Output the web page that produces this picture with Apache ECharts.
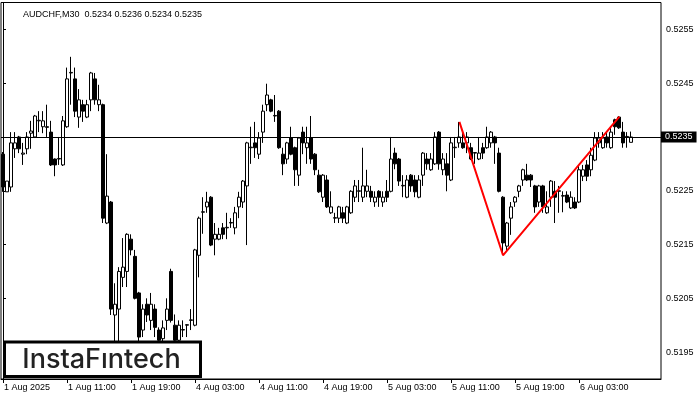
<!DOCTYPE html>
<html>
<head>
<meta charset="utf-8">
<script src="https://cdn.jsdelivr.net/npm/echarts@6/dist/echarts.min.js"></script>
<style>html,body{margin:0;padding:0;background:#fff}#c{width:700px;height:400px}</style>
</head>
<body>
<div id="c"></div>
<script>
const headerText = 'AUDCHF,M30  0.5234 0.5236 0.5234 0.5235';
const xTickLabels = ['1 Aug 2025','1 Aug 11:00','1 Aug 19:00','4 Aug 03:00','4 Aug 11:00','4 Aug 19:00','5 Aug 03:00','5 Aug 11:00','5 Aug 19:00','6 Aug 03:00'];
const barsPerTick = 16;
const slotCount = 165;
const yTickValues = [0.5195, 0.5205, 0.5215, 0.5225, 0.5235, 0.5245, 0.5255];
const currentPrice = 0.5235;

const opens = [
0.52318,0.52248,0.52257,0.52328,0.52350,0.52318,0.52328,0.52357,0.52350,0.52380,
0.52369,0.52369,0.52359,0.52309,0.52309,0.52298,0.52369,0.52469,0.52458,0.52387,
0.52410,0.52387,0.52419,0.52458,0.52410,0.52410,0.52190,0.52229,0.52019,0.52030,
0.52089,0.52100,0.52160,0.52128,0.52060,0.51991,0.52039,0.52009,0.52030,0.51991,
0.51975,0.52009,0.52100,0.52000,0.51972,0.51991,0.52000,0.52009,0.52000,0.52130,
0.52210,0.52220,0.52238,0.52160,0.52160,0.52181,0.52181,0.52190,0.52181,0.52220,
0.52229,0.52259,0.52330,0.52339,0.52318,0.52359,0.52410,0.52419,0.52389,0.52398,
0.52318,0.52309,0.52348,0.52330,0.52279,0.52359,0.52330,0.52348,0.52318,0.52279,
0.52238,0.52270,0.52209,0.52199,0.52199,0.52209,0.52190,0.52209,0.52238,0.52249,
0.52238,0.52249,0.52249,0.52229,0.52249,0.52229,0.52249,0.52249,0.52320,0.52309,
0.52259,0.52238,0.52279,0.52270,0.52238,0.52279,0.52309,0.52289,0.52300,0.52359,
0.52289,0.52300,0.52270,0.52330,0.52339,0.52339,0.52339,0.52330,0.52320,0.52309,
0.52330,0.52330,0.52339,0.52350,0.52320,0.52238,0.52147,0.52199,0.52229,0.52249,
0.52270,0.52279,0.52279,0.52259,0.52229,0.52259,0.52209,0.52238,0.52249,0.52249,
0.52240,0.52242,0.52218,0.52229,0.52229,0.52277,0.52298,0.52289,0.52307,0.52339,
0.52330,0.52350,0.52330,0.52382,0.52387,0.52359,0.52350,0.52340];
const closes = [
0.52257,0.52268,0.52339,0.52339,0.52328,0.52320,0.52350,0.52361,0.52389,0.52381,
0.52380,0.52368,0.52298,0.52298,0.52310,0.52380,0.52458,0.52470,0.52398,0.52419,
0.52398,0.52410,0.52469,0.52419,0.52419,0.52199,0.52240,0.52030,0.52039,0.52100,
0.52108,0.52169,0.52140,0.52050,0.51978,0.52030,0.52019,0.52039,0.51996,0.51972,
0.51995,0.52030,0.52009,0.51972,0.52000,0.51992,0.52001,0.52010,0.52140,0.52199,
0.52211,0.52229,0.52149,0.52169,0.52169,0.52169,0.52182,0.52191,0.52209,0.52238,
0.52268,0.52339,0.52331,0.52330,0.52348,0.52398,0.52428,0.52398,0.52390,0.52330,
0.52300,0.52339,0.52318,0.52289,0.52348,0.52339,0.52339,0.52309,0.52289,0.52248,
0.52279,0.52220,0.52220,0.52200,0.52220,0.52199,0.52220,0.52249,0.52259,0.52250,
0.52259,0.52259,0.52238,0.52238,0.52238,0.52238,0.52238,0.52309,0.52300,0.52268,
0.52260,0.52270,0.52259,0.52248,0.52270,0.52320,0.52300,0.52309,0.52350,0.52300,
0.52309,0.52279,0.52339,0.52331,0.52350,0.52330,0.52350,0.52309,0.52321,0.52320,
0.52320,0.52350,0.52359,0.52339,0.52249,0.52153,0.52190,0.52220,0.52238,0.52259,
0.52289,0.52270,0.52270,0.52220,0.52259,0.52220,0.52220,0.52268,0.52238,0.52250,
0.52241,0.52229,0.52238,0.52218,0.52289,0.52289,0.52277,0.52316,0.52348,0.52348,
0.52348,0.52339,0.52359,0.52369,0.52367,0.52339,0.52351,0.52350];
const lows = [
0.52248,0.52248,0.52248,0.52311,0.52320,0.52298,0.52318,0.52328,0.52348,0.52359,
0.52357,0.52350,0.52296,0.52277,0.52298,0.52296,0.52367,0.52410,0.52387,0.52367,
0.52378,0.52385,0.52398,0.52410,0.52398,0.52190,0.52188,0.52019,0.51965,0.51968,
0.52071,0.52071,0.52130,0.52048,0.51970,0.51978,0.52006,0.51991,0.51978,0.51963,
0.51963,0.51991,0.52005,0.51963,0.51963,0.51978,0.51978,0.51991,0.51998,0.52089,
0.52170,0.52209,0.52147,0.52130,0.52158,0.52160,0.52160,0.52181,0.52169,0.52199,
0.52218,0.52149,0.52300,0.52311,0.52309,0.52339,0.52398,0.52396,0.52378,0.52328,
0.52279,0.52300,0.52316,0.52259,0.52259,0.52318,0.52300,0.52300,0.52279,0.52246,
0.52229,0.52218,0.52207,0.52190,0.52190,0.52190,0.52188,0.52207,0.52229,0.52229,
0.52229,0.52238,0.52229,0.52220,0.52220,0.52220,0.52229,0.52247,0.52290,0.52259,
0.52238,0.52236,0.52248,0.52238,0.52236,0.52259,0.52289,0.52287,0.52298,0.52289,
0.52279,0.52249,0.52268,0.52311,0.52330,0.52328,0.52320,0.52307,0.52300,0.52307,
0.52309,0.52328,0.52330,0.52300,0.52247,0.52136,0.52136,0.52168,0.52220,0.52238,
0.52259,0.52268,0.52257,0.52209,0.52220,0.52209,0.52207,0.52220,0.52190,0.52209,
0.52210,0.52227,0.52216,0.52216,0.52227,0.52268,0.52268,0.52277,0.52305,0.52330,
0.52328,0.52330,0.52328,0.52354,0.52365,0.52330,0.52330,0.52340];
const highs = [
0.52322,0.52268,0.52359,0.52359,0.52352,0.52339,0.52359,0.52380,0.52391,0.52398,
0.52398,0.52410,0.52380,0.52310,0.52350,0.52389,0.52479,0.52499,0.52479,0.52439,
0.52419,0.52419,0.52471,0.52469,0.52447,0.52412,0.52318,0.52231,0.52078,0.52108,
0.52162,0.52171,0.52169,0.52140,0.52062,0.52039,0.52050,0.52060,0.52039,0.51996,
0.52009,0.52050,0.52105,0.52020,0.52009,0.52009,0.52002,0.52030,0.52142,0.52202,
0.52238,0.52248,0.52240,0.52190,0.52181,0.52190,0.52209,0.52199,0.52220,0.52248,
0.52270,0.52341,0.52369,0.52378,0.52359,0.52410,0.52449,0.52421,0.52428,0.52400,
0.52330,0.52341,0.52369,0.52332,0.52350,0.52369,0.52369,0.52389,0.52320,0.52289,
0.52281,0.52279,0.52249,0.52209,0.52222,0.52220,0.52222,0.52251,0.52270,0.52270,
0.52330,0.52289,0.52259,0.52249,0.52251,0.52249,0.52270,0.52350,0.52330,0.52311,
0.52279,0.52279,0.52281,0.52279,0.52279,0.52322,0.52320,0.52320,0.52359,0.52361,
0.52320,0.52320,0.52350,0.52350,0.52378,0.52359,0.52359,0.52339,0.52322,0.52350,
0.52339,0.52369,0.52361,0.52352,0.52330,0.52240,0.52192,0.52229,0.52240,0.52261,
0.52291,0.52300,0.52281,0.52261,0.52261,0.52261,0.52249,0.52270,0.52268,0.52259,
0.52249,0.52249,0.52249,0.52238,0.52298,0.52298,0.52307,0.52330,0.52359,0.52359,
0.52359,0.52359,0.52369,0.52384,0.52389,0.52378,0.52359,0.52360];

const patternX = [114.1, 125, 154.1];
const patternY = [0.52378, 0.52130, 0.52388];

const categories = [];
for (let i = 0; i < slotCount; i++) categories.push(String(i));
const candleData = opens.map((o, i) => [o, closes[i], lows[i], highs[i]]);
const patternData = patternX.map((x, i) => [x, patternY[i]]);
const showTick = (i) => i % barsPerTick === 0 && i / barsPerTick < xTickLabels.length;
const FONT = 'Liberation Sans';

const chart = echarts.init(document.getElementById('c'), null, {renderer: 'canvas'});
chart.setOption({
  animation: false,
  backgroundColor: '#fff',
  title: {
    text: headerText, left: 18, top: 5,
    textStyle: {fontSize: 9, fontWeight: 'normal', color: '#000', fontFamily: FONT}
  },
  grid: {left: 1, right: 39, top: 2.5, bottom: 21, show: true, borderColor: '#000', borderWidth: 1, backgroundColor: '#fff'},
  xAxis: [{
    type: 'category', data: categories, boundaryGap: true,
    axisLine: {show: true, lineStyle: {color: '#000', width: 1}},
    axisTick: {show: true, alignWithLabel: true, interval: showTick, length: 4, lineStyle: {color: '#000'}},
    axisLabel: {
      interval: showTick, align: 'left', margin: 4, padding: [0, 0, 0, 1],
      fontSize: 9, fontFamily: FONT, color: '#000',
      formatter: (v, i) => xTickLabels[i / barsPerTick]
    },
    splitLine: {show: false}
  }, {
    type: 'value', min: -0.5, max: slotCount - 0.5, show: false
  }],
  yAxis: {
    type: 'value', position: 'right', min: 0.519, max: 0.526, scale: false,
    axisLine: {show: true, lineStyle: {color: '#000'}},
    axisTick: {show: true, length: 3, customValues: yTickValues, lineStyle: {color: '#000'}},
    axisLabel: {customValues: yTickValues, margin: 5, fontSize: 9, fontFamily: FONT, color: '#000', formatter: (v) => v.toFixed(4)},
    splitLine: {show: false}
  },
  series: [{
    type: 'candlestick', xAxisIndex: 0, yAxisIndex: 0, barWidth: 3,
    itemStyle: {color: '#fff', color0: '#000', borderColor: '#000', borderColor0: '#000', borderWidth: 1},
    data: candleData,
    markLine: {
      silent: true, symbol: ['none', 'none'], precision: 6,
      lineStyle: {color: '#000', width: 1, type: 'solid'},
      label: {
        show: true, position: 'end', distance: 0,
        formatter: () => currentPrice.toFixed(4),
        backgroundColor: '#000', color: '#fff', padding: [1, 4, 1, 4],
        fontSize: 9, fontFamily: FONT
      },
      data: [{yAxis: currentPrice}]
    }
  }, {
    type: 'line', xAxisIndex: 1, yAxisIndex: 0, data: patternData,
    symbol: 'none', lineStyle: {color: '#ff0000', width: 2}, z: 5
  }],
  graphic: [{
    type: 'rect', z: 100,
    shape: {x: 4.5, y: 342, width: 196, height: 34.5},
    style: {fill: '#fff', stroke: '#000', lineWidth: 3}
  }, {
    type: 'text', z: 101, x: 101.5, y: 360,
    style: {text: 'InstaFıntech', fill: '#222', fontSize: 27, fontFamily: 'Inter', fontWeight: 500, align: 'center', verticalAlign: 'middle'}
  }]
});
</script>
</body>
</html>
